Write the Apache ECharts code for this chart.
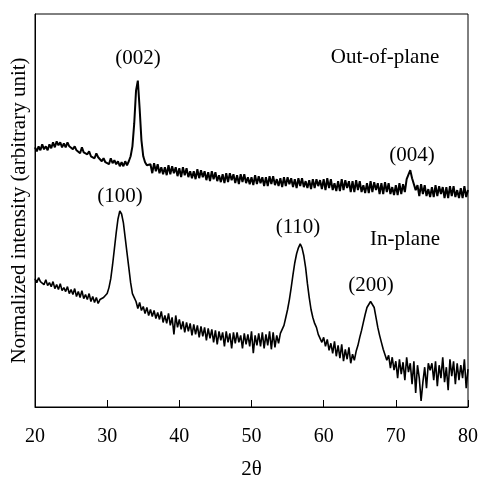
<!DOCTYPE html>
<html>
<head>
<meta charset="utf-8">
<script src="https://cdn.jsdelivr.net/npm/echarts@6/dist/echarts.min.js"></script>
<style>html,body{margin:0;padding:0;background:#fff}#c{width:481px;height:485px}</style>
</head>
<body>
<div id="c"></div>
<script>
// 2θ sampling grid (degrees)
const twoThetaStart = 20;
const twoThetaStep = 0.25;
const xTicks = [20, 30, 40, 50, 60, 70, 80];

// Out-of-plane intensity (arbitrary units)
const outOfPlane = [
261,257,262,258, 264,259,262,258, 264,260,266,261, 267,263,266,261, 265,261,266,262,
264,259,262,258, 259,255,261,256, 258,254,257,252, 254,250,255,251, 252,247,250,246,
248,244,250,245, 248,244,247,242, 246,242,247,243, 247,252,262,285, 318,328,300,268,
252,246,243,242, 244,235,245,237, 244,235,241,234, 241,233,243,234, 242,235,241,232,
240,231,241,233, 240,231,237,230, 237,229,239,230, 238,231,237,228, 236,227,237,229,
236,227,233,226, 234,225,235,226, 235,228,234,225, 233,224,234,226, 234,225,231,224,
231,223,233,224, 232,225,231,222, 231,222,232,224, 232,223,229,222, 230,221,231,222,
231,224,230,221, 229,220,230,222, 230,221,227,220, 228,219,229,220, 229,222,228,219,
229,218,230,220, 229,218,225,217, 227,217,229,218, 228,220,227,216, 227,216,228,218,
227,216,223,215, 225,215,227,216, 226,218,225,214, 225,214,226,216, 225,214,221,213,
223,213,225,214, 224,216,229,231, 238,230,228,218, 223,212,224,214, 223,212,219,211,
221,211,223,212, 222,214,221,210, 221,210,222,212, 222,211,218,210, 220,210,222,211,
218
];

// In-plane intensity (arbitrary units)
const inPlane = [
129,125,130,126, 127,123,128,122, 125,121,126,119, 123,118,124,117, 120,116,121,114,
118,113,119,111, 116,110,117,109, 113,108,114,106, 111,105,110,104, 108,106,110,109,
114,120,129,143, 159,175,189,197, 194,185,170,155, 140,125,114,110, 106,99,105,97,
101,94,100,92, 98,91,97,89, 95,88,96,85, 92,84,94,82, 90,73,92,80,
88,78,86,75, 85,76,84,72, 83,73,82,70, 81,71,80,67, 79,69,78,65,
77,63,76,67, 75,61,76,65, 74,59,75,64, 75,65,72,59, 74,63,73,61,
76,54,72,62, 74,61,75,59, 73,62,76,58, 75,60,72,64, 74,78,82,90,
98,108,120,133, 145,154,160,164, 160,152,140,124, 110,98,90,84, 80,73,75,65,
70,61,68,57, 64,54,66,51, 62,49,63,46, 58,48,60,44, 53,47,56,62,
70,77,85,93, 100,103,106,105, 100,90,80,72, 65,58,57,47, 52,39,50,37,
46,29,48,33, 45,27,50,35, 44,23,46,14, 42,29,6,25, 40,19,44,37,
44,27,46,21, 42,29,50,25, 40,17,48,31, 46,23,44,27, 42,29,48,19,
38
];

// Peak / trace annotations
const annotations = [
  { text: '(002)', x: 138, y: 58 },
  { text: 'Out-of-plane', x: 385, y: 57 },
  { text: '(004)', x: 412, y: 155 },
  { text: '(100)', x: 120, y: 196 },
  { text: '(110)', x: 298, y: 227 },
  { text: 'In-plane', x: 405, y: 239 },
  { text: '(200)', x: 371, y: 285 }
];

const FONT = '"Liberation Serif", "Times New Roman", serif';

function toPairs(arr) {
  return arr.map((v, i) => [twoThetaStart + i * twoThetaStep, v]);
}

const chart = echarts.init(document.getElementById('c'), null, { renderer: 'canvas' });
chart.setOption({
  animation: false,
  backgroundColor: '#fff',
  grid: { left: 35, right: 10, top: 14, bottom: 76, show: true, borderColor: '#000', borderWidth: 1, containLabel: false },
  xAxis: {
    type: 'value', min: 20, max: 80, interval: 10,
    name: '2θ', nameLocation: 'middle', nameGap: 52,
    nameTextStyle: { color: '#000', fontSize: 21, fontFamily: FONT },
    axisLine: { show: true, onZero: false, lineStyle: { color: '#000', width: 1 } },
    axisTick: { show: true, inside: true, length: 7, lineStyle: { color: '#000' } },
    axisLabel: { color: '#000', fontSize: 20, fontFamily: FONT, margin: 20 },
    splitLine: { show: false }
  },
  yAxis: {
    type: 'value', min: 0, max: 395,
    name: 'Normalized intensity (arbitrary unit)', nameLocation: 'middle', nameGap: 5, nameRotate: 90,
    nameTextStyle: { color: '#000', fontSize: 21, fontFamily: FONT },
    axisLine: { show: true, lineStyle: { color: '#000', width: 1 } },
    axisTick: { show: false },
    axisLabel: { show: false },
    splitLine: { show: false }
  },
  series: [
    { type: 'line', name: 'Out-of-plane', data: toPairs(outOfPlane), showSymbol: false, symbol: 'none',
      lineStyle: { color: '#000', width: 2 }, silent: true },
    { type: 'line', name: 'In-plane', data: toPairs(inPlane), showSymbol: false, symbol: 'none',
      lineStyle: { color: '#000', width: 1.6 }, silent: true }
  ],
  graphic: annotations.map(a => ({
    type: 'text', x: a.x, y: a.y, silent: true,
    style: { text: a.text, fill: '#000', fontSize: 21, fontFamily: FONT, align: 'center', verticalAlign: 'middle' }
  }))
});
</script>
</body>
</html>
